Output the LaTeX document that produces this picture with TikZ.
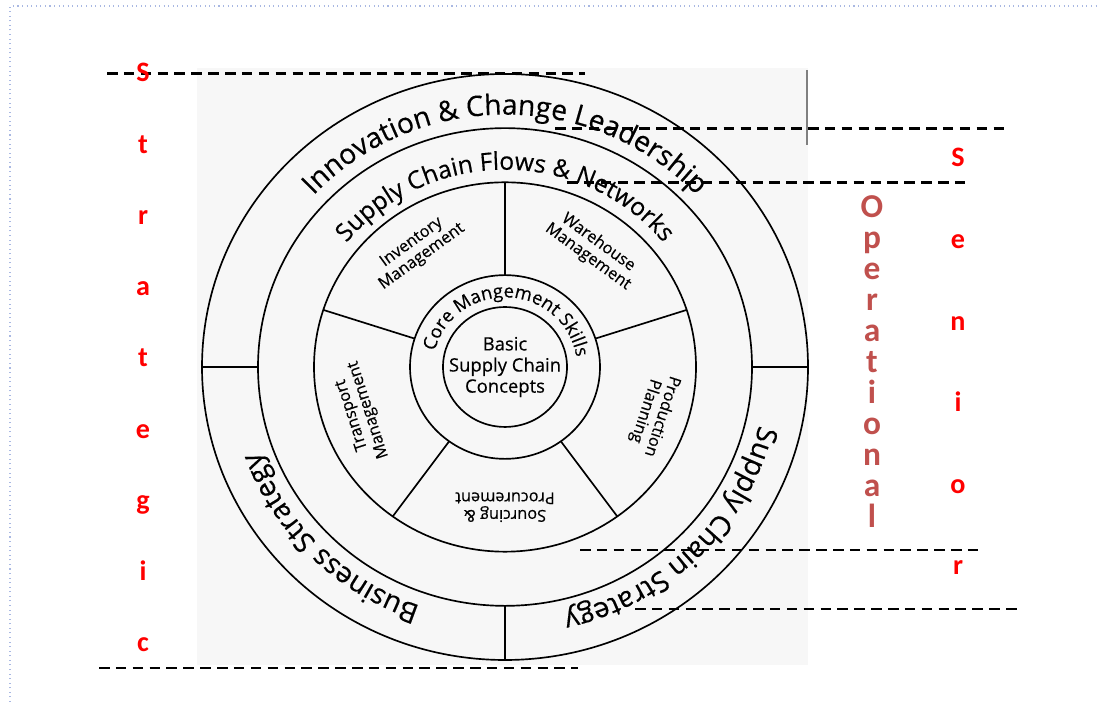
\documentclass[tikz,border=0pt]{standalone}
\usepackage{fontspec}
\setmainfont{Open Sans}[FakeBold=0.4]
\newfontfamily\calibri{Carlito}
\usepackage{tikz}
\usetikzlibrary{decorations.text}

\definecolor{opred}{HTML}{C0504D}
\definecolor{pagedot}{HTML}{A9B8E2}
\definecolor{scanbg}{HTML}{F7F7F7}

\begin{document}
\begin{tikzpicture}[x=0.02cm, y=0.02cm,
    ring/.style={line width=0.95pt},
    ringtext/.style={decorate, decoration={text along path, text align=center, text={#1}}},
    seglabel/.style={align=center, inner sep=0pt, font=\fontsize{9.3}{10}\selectfont},
    redletter/.style={anchor=base, text=red, font=\calibri\bfseries\fontsize{16}{16}\selectfont},
    opletter/.style={anchor=base, text=opred, font=\calibri\bfseries\fontsize{19}{19}\selectfont},
    levelline/.style={dash pattern=on 6pt off 3.6pt, line width=1.7pt}]
    \useasboundingbox (0,0) rectangle (1098,702);
    \fill[scanbg] (197,37) rectangle (808,634);
    \draw[gray, line width=1pt] (807,557) -- (807,632);
    \draw[pagedot, dotted, line width=0.6pt] (10,0) -- (10,696) -- (1098,696);

    \begin{scope}[shift={(505,335)}, yscale=0.967]
        % rings
        \draw[ring] (0,0) circle[radius=303];
        \draw[ring] (0,0) circle[radius=247];
        \draw[ring] (0,0) circle[radius=191];
        \draw[ring] (0,0) circle[radius=95];
        \draw[ring] (0,0) circle[radius=62];
        \draw[ring] (180:247) -- (180:303);
        \draw[ring] (0:247) -- (0:303);
        \draw[ring] (270:247) -- (270:303);
        \foreach \a in {18,90,162,234,306}
            \draw[ring] (\a:95) -- (\a:191);

        % ring texts
        \path[ringtext={|\fontsize{16}{16}\selectfont|Innovation {\&} Change Leadership}]
            (180:261) arc[start angle=180, end angle=0, radius=261];
        \path[ringtext={|\fontsize{16}{16}\selectfont|Business Strategy}]
            (270:261) arc[start angle=270, end angle=180, radius=261];
        \path[ringtext={|\fontsize{16}{16}\selectfont|Supply Chain Strategy}]
            (360:261) arc[start angle=360, end angle=270, radius=261];
        \path[ringtext={|\fontsize{14}{14}\selectfont|Supply Chain Flows {\&} Networks}]
            (180:204) arc[start angle=180, end angle=0, radius=204];
        \path[ringtext={|\fontsize{10.5}{10.5}\selectfont|Core Mangement Skills}]
            (185:72) arc[start angle=185, end angle=-10, radius=72];

        \node[seglabel, rotate=36] (inv) at (126:150) {Inventory\\Management};
        \node[seglabel, rotate=-36] (ware) at (54:150) {Warehouse\\Management};
        \node[seglabel, rotate=-108] (prod) at (342:156) {Production\\Planning};
        \node[seglabel, rotate=180] (src) at (270:145) {Sourcing \&\\Procurement};
        \node[seglabel, rotate=108] (trans) at (198:152) {Transport\\Management};
        \node[align=center, font=\fontsize{10.5}{12}\selectfont] (basic) at (0,0) {Basic\\Supply Chain\\Concepts};
    \end{scope}

    % level lines
    \coordinate (stratTopL) at (107,628);
    \coordinate (stratTopR) at (585,628);
    \coordinate (senTopL) at (555,573);
    \coordinate (senTopR) at (1010,573);
    \coordinate (opTopL) at (567,519);
    \coordinate (opTopR) at (970,519);
    \coordinate (opBotL) at (580,152);
    \coordinate (opBotR) at (983,152);
    \coordinate (senBotL) at (635,93);
    \coordinate (senBotR) at (1018,93);
    \coordinate (stratBotL) at (99,34);
    \coordinate (stratBotR) at (578,34);
    \draw[levelline] (stratTopL) -- (stratTopR);
    \draw[levelline] (senTopL) -- (senTopR);
    \draw[levelline] (opTopL) -- (opTopR);
    \draw[levelline] (opBotL) -- (opBotR);
    \draw[levelline] (senBotL) -- (senBotR);
    \draw[levelline] (stratBotL) -- (stratBotR);

    \foreach \ch [count=\i] in {S,t,r,a,t,e,g,i,c}
        \node[redletter] (strat\i) at (143, {691.25-71.25*\i}) {\ch};
    \foreach \ch [count=\i] in {S,e,n,i,o,r}
        \node[redletter] (sen\i) at (958, {616.6-81.6*\i}) {\ch};
    \foreach \ch [count=\i] in {O,p,e,r,a,t,i,o,n,a,l}
        \node[opletter] (op\i) at (872, {515-31*\i}) {\ch};
\end{tikzpicture}
\end{document}
